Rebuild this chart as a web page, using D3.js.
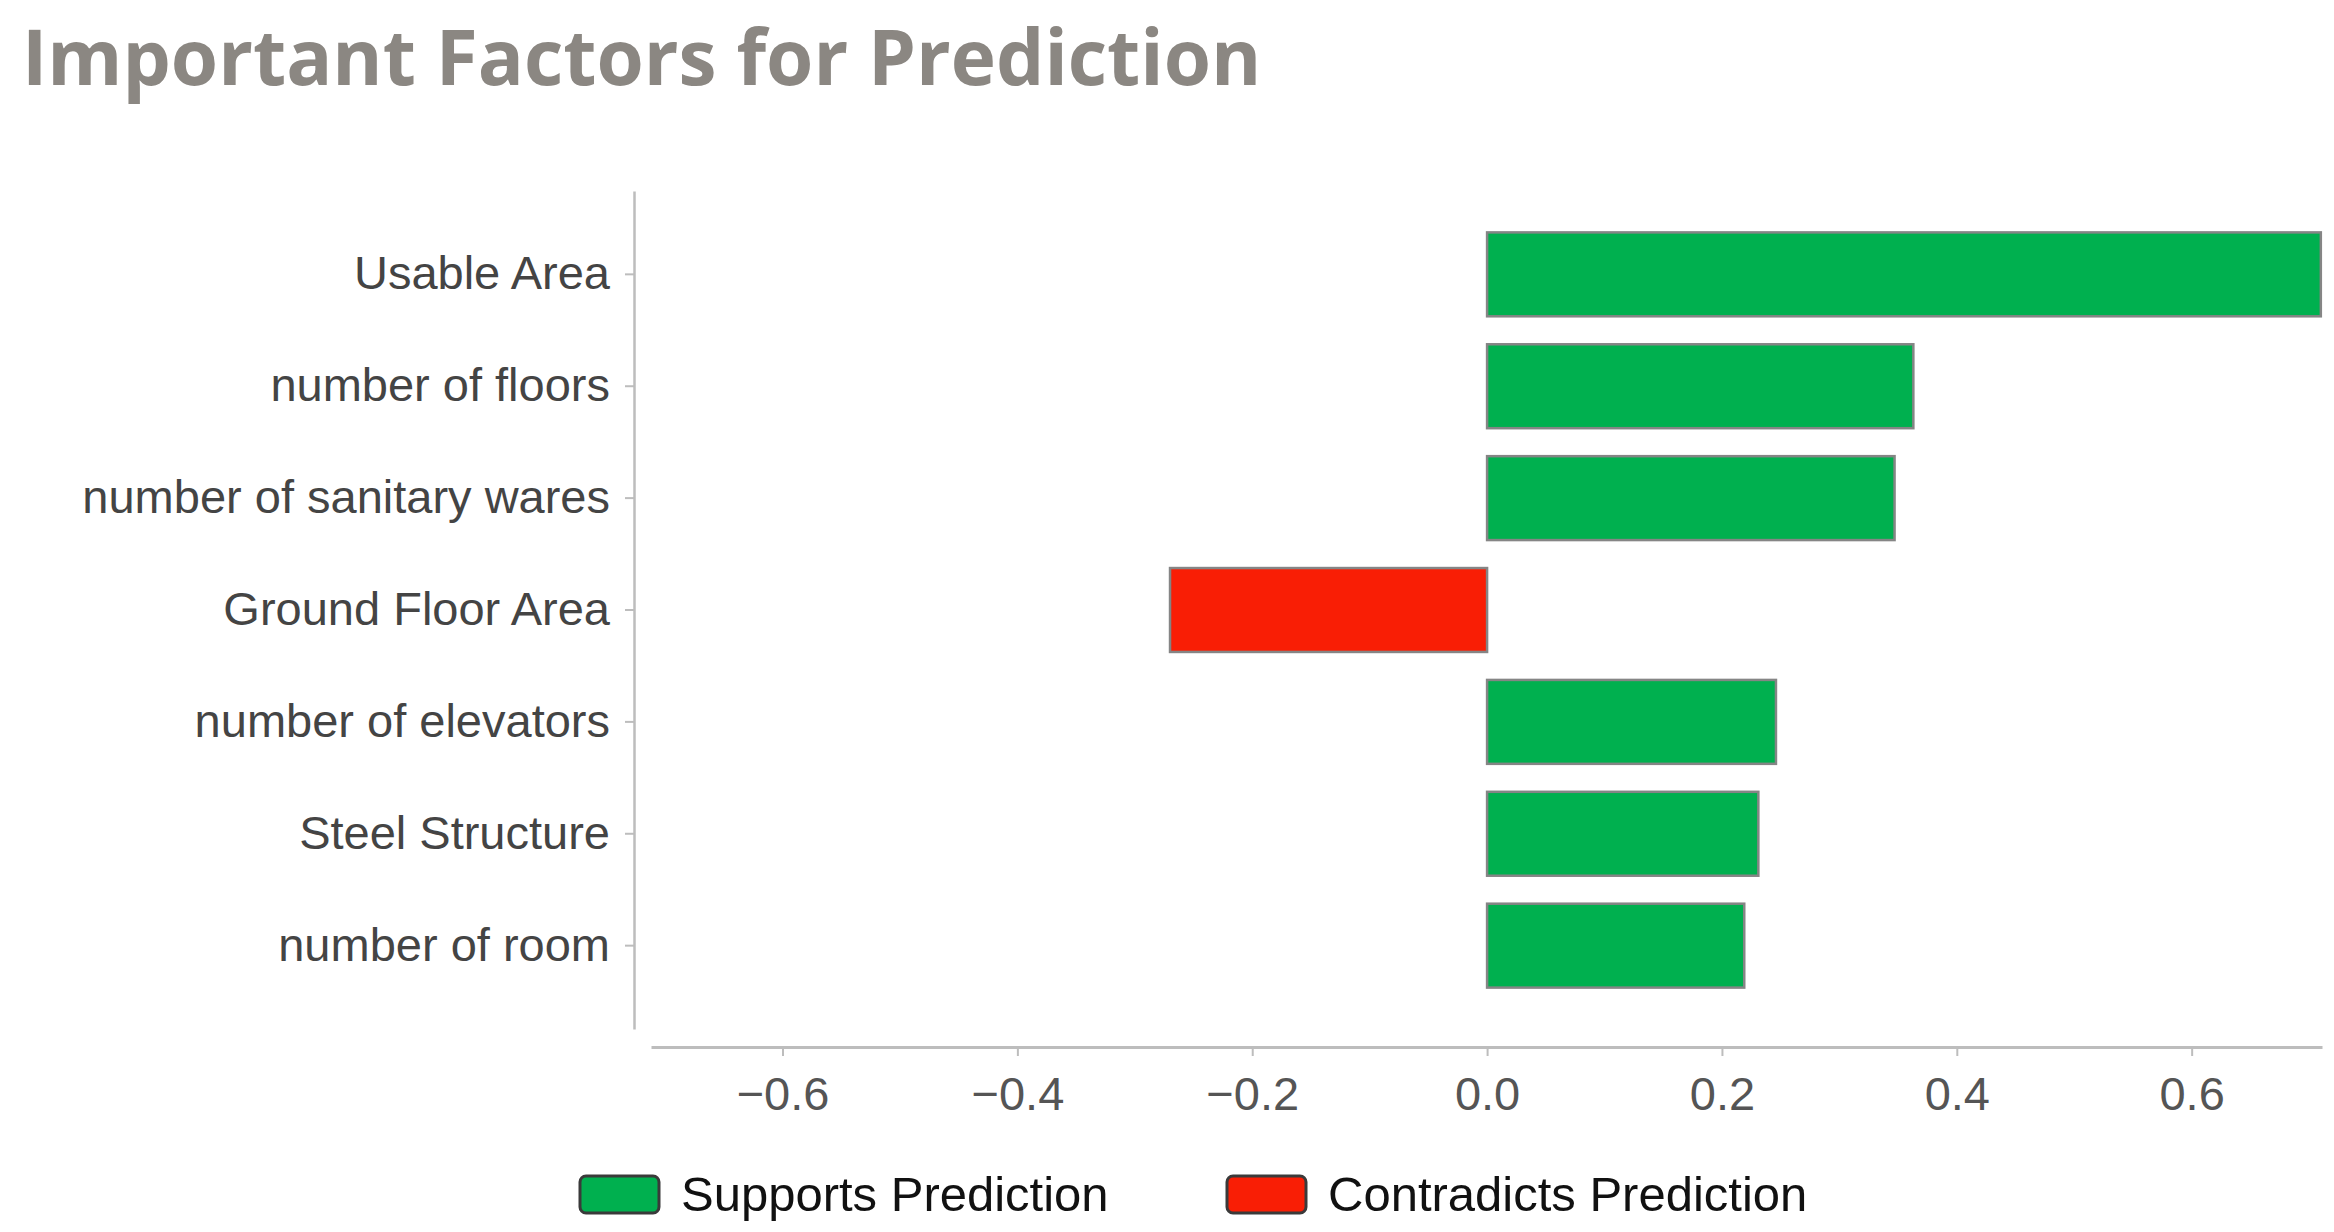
<!DOCTYPE html>
<html>
<head>
<meta charset="utf-8">
<script src="https://cdn.jsdelivr.net/npm/d3@7"></script>
<style>
	body { margin: 0; background: #fff; }
	svg { display: block; }
</style>
</head>
<body>
<div id="chart"></div>
<script>
// data
var factors = ["Usable Area", "number of floors", "number of sanitary wares", "Ground Floor Area",
	"number of elevators", "Steel Structure", "number of room"];
var weights = [0.71, 0.363, 0.347, -0.27, 0.246, 0.231, 0.219];
var xTicks = [-0.6, -0.4, -0.2, 0.0, 0.2, 0.4, 0.6];
var legendLabels = ["Supports Prediction", "Contradicts Prediction"];

var width = 2334, height = 1232;
var green = "#00b04f", red = "#f91e05";

var svg = d3.select("#chart").append("svg")
	.attr("width", width)
	.attr("height", height);

svg.append("text")
	.text("Important Factors for Prediction")
	.attr("x", 22)
	.attr("y", 85)
	.style("font-family", "'Open Sans', sans-serif")
	.style("font-weight", 700)
	.style("font-size", "76.5px")
	.style("fill", "#8b8782");

var x = d3.scaleLinear()
	.domain([-0.712, 0.711])
	.range([651, 2322]);

var y = d3.scaleBand()
	.domain(factors)
	.range([191, 1029])
	.paddingInner(0.25)
	.paddingOuter(0.37);

var labelFont = "'Liberation Sans', Arial, sans-serif";

// y axis
var yAxis = svg.append("g")
	.attr("transform", "translate(634,0)")
	.call(d3.axisLeft(y).tickSize(9).tickPadding(15).tickSizeOuter(0));
yAxis.select(".domain").attr("stroke", "#bdbdbd").attr("stroke-width", 2.5);
yAxis.selectAll(".tick line").attr("stroke", "#bdbdbd").attr("stroke-width", 2);
yAxis.selectAll(".tick text")
	.style("font-family", labelFont)
	.style("font-size", "47px")
	.style("fill", "#444");

// x axis
var xAxis = svg.append("g")
	.attr("transform", "translate(0,1047)")
	.call(d3.axisBottom(x).tickValues(xTicks).tickFormat(d3.format(".1f")).tickSize(9).tickPadding(21).tickSizeOuter(0));
xAxis.select(".domain").attr("stroke", "#bdbdbd").attr("stroke-width", 3);
xAxis.selectAll(".tick line").attr("stroke", "#bdbdbd").attr("stroke-width", 2);
xAxis.selectAll(".tick text")
	.style("font-family", labelFont)
	.style("font-size", "47px")
	.style("fill", "#555");

// bars
svg.append("g").selectAll("rect")
	.data(factors)
	.enter().append("rect")
	.attr("x", function(d, i){ return x(Math.min(0, weights[i])); })
	.attr("y", function(d){ return y(d); })
	.attr("width", function(d, i){ return Math.abs(x(weights[i]) - x(0)); })
	.attr("height", y.bandwidth())
	.style("fill", function(d, i){ return weights[i] >= 0 ? green : red; })
	.style("stroke", "#858585")
	.style("stroke-width", 2.5);

// legend
var legendX = [580, 1227];
var legendColors = [green, red];
var legend = svg.append("g").selectAll("g")
	.data(legendLabels)
	.enter().append("g")
	.attr("transform", function(d, i){ return "translate(" + legendX[i] + ",1176)"; });

legend.append("rect")
	.attr("width", 79)
	.attr("height", 37)
	.attr("rx", 6)
	.style("fill", function(d, i){ return legendColors[i]; })
	.style("stroke", "#3a3a3a")
	.style("stroke-width", 3);

legend.append("text")
	.text(function(d){ return d; })
	.attr("x", 101)
	.attr("y", 35)
	.style("font-family", labelFont)
	.style("font-size", "49px")
	.style("fill", "#111");
</script>
</body>
</html>
